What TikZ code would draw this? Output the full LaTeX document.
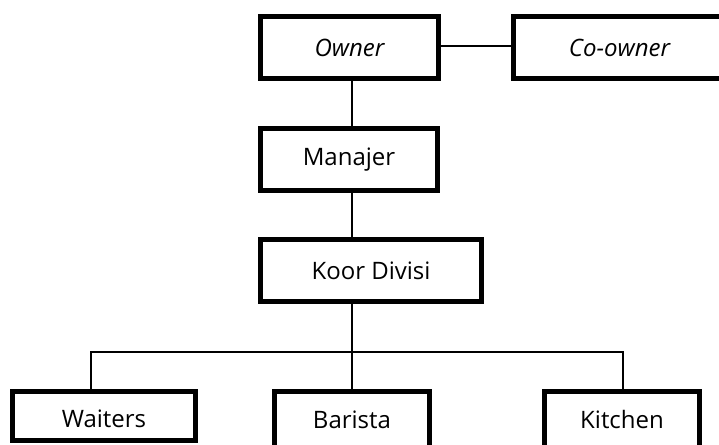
\documentclass[tikz,border=0pt]{standalone}
\usepackage{fontspec}
\setmainfont{Open Sans}
\begin{document}
\begin{tikzpicture}[x=1pt,y=1pt,
  box/.style={draw=black,line width=5pt,fill=white,rectangle,inner sep=0pt,outer sep=0pt,
    font=\fontsize{24}{28}\selectfont},
  link/.style={draw=black,line width=1.4pt}]
\useasboundingbox (0,0) rectangle (719,444);
% upper boxes
\node[box,minimum width=178,minimum height=62] (owner)   at (349.5,396.5) {\itshape Owner};
\node[box,minimum width=212,minimum height=62] (coowner) at (619.5,396.5) {\itshape Co-owner};
\node[box,minimum width=177,minimum height=62] (manajer) at (349,284.5) {Manajer};
\node[box,minimum width=221,minimum height=62] (koor)    at (371,173.5) {Koor Divisi};
% lower boxes, sharing one baseline
\node[box,minimum width=183,minimum height=49,text height=23,text depth=0] (waiters) at (104,28) {Waiters};
\node[box,minimum width=155,minimum height=62,text height=16,text depth=5] (barista) at (352,21.5) {Barista};
\node[box,minimum width=155,minimum height=62,text height=16,text depth=5] (kitchen) at (622,21.5) {Kitchen};
% guide coordinates for connector lines
\coordinate (spine) at (352,0);
\coordinate (bus) at (352,92);
\coordinate (wdrop) at (91,0);
\coordinate (kdrop) at (623,0);
\coordinate (top) at (0,398);
% connectors
\draw[link] (owner.east |- top) -- (coowner.west |- top);
\draw[link] (owner.south -| spine) -- (manajer.north -| spine);
\draw[link] (manajer.south -| spine) -- (koor.north -| spine);
\draw[link] (koor.south -| spine) -- (bus);
\draw[link] (waiters.north -| wdrop) |- (bus);
\draw[link] (kitchen.north -| kdrop) |- (bus);
\draw[link] (bus) -- (barista.north -| spine);
\end{tikzpicture}
\end{document}
